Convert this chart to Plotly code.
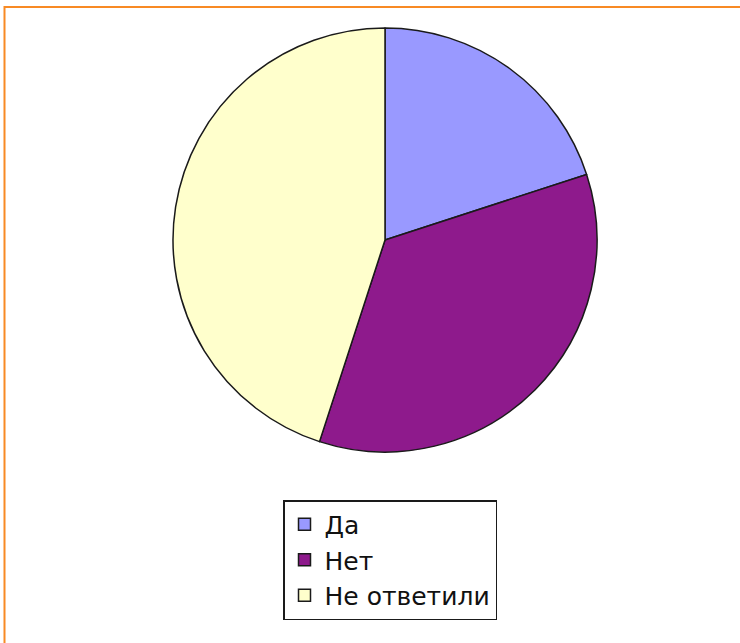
import plotly.graph_objects as go

labels = ["Да", "Нет", "Не ответили"]
values = [20, 35, 45]
colors = ["#9999FF", "#8E1A8C", "#FFFFCC"]

W, H = 740, 643

fig = go.Figure(go.Pie(
    labels=labels,
    values=values,
    sort=False,
    direction="clockwise",
    rotation=0,
    marker=dict(colors=colors, line=dict(color="#1a1a1a", width=1.5)),
    textinfo="none",
    hoverinfo="label+percent",
    domain=dict(x=[173 / W, 597 / W], y=[1 - 452 / H, 1 - 28 / H]),
))

orange = "#F88A24"
fig.update_layout(
    width=W, height=H,
    margin=dict(l=0, r=0, t=0, b=0),
    paper_bgcolor="white",
    plot_bgcolor="white",
    showlegend=True,
    legend=dict(
        x=283 / W, y=1 - 500 / H, xanchor="left", yanchor="top",
        bordercolor="#1a1a1a", borderwidth=1.5, bgcolor="white",
        font=dict(family="DejaVu Sans", size=25, color="#111111"),
        itemwidth=30,
    ),
    shapes=[
        dict(type="line", xref="paper", yref="paper",
             x0=4 / W, x1=1, y0=1 - 7 / H, y1=1 - 7 / H,
             line=dict(color=orange, width=2)),
        dict(type="line", xref="paper", yref="paper",
             x0=4.5 / W, x1=4.5 / W, y0=1 - 6 / H, y1=0,
             line=dict(color=orange, width=2)),
    ],
)

fig.write_html(
    "out.html",
    config={"displayModeBar": False},
    post_script="document.body.style.margin='0';document.body.style.padding='0';",
)
